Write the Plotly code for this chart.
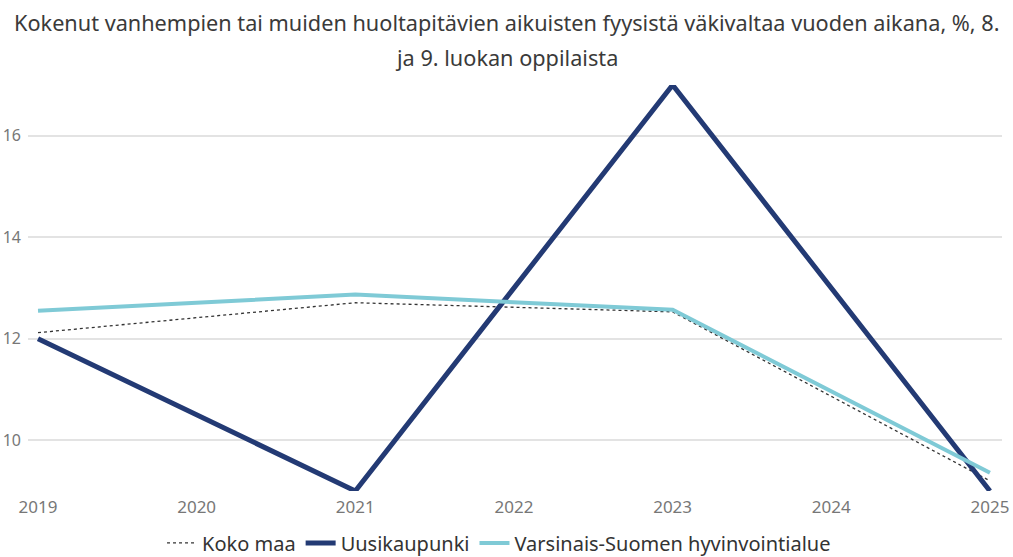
import plotly.graph_objects as go

years = [2019, 2021, 2023, 2025]
koko_maa = [12.12, 12.71, 12.53, 9.2]
uusikaupunki = [12.0, 9.0, 17.0, 9.0]
varsinais = [12.55, 12.87, 12.57, 9.36]
y_ticks = [10, 12, 14, 16]
x_ticks = [2019, 2020, 2021, 2022, 2023, 2024, 2025]

fig = go.Figure()
fig.add_trace(go.Scatter(x=years, y=koko_maa, mode="lines", name="Koko maa",
                         line=dict(color="#333333", width=1.3, dash="dot")))
fig.add_trace(go.Scatter(x=years, y=uusikaupunki, mode="lines", name="Uusikaupunki",
                         line=dict(color="#233a74", width=5)))
fig.add_trace(go.Scatter(x=years, y=varsinais, mode="lines", name="Varsinais-Suomen hyvinvointialue",
                         line=dict(color="#7fcad6", width=4)))

font_family = "Noto Sans, Open Sans, sans-serif"
fig.update_layout(
    width=1013, height=557,
    margin=dict(l=28, r=11, t=85, b=66, autoexpand=False),
    plot_bgcolor="white", paper_bgcolor="white",
    font=dict(family=font_family, color="#333333"),
    showlegend=True,
    legend=dict(orientation="h", x=0.4836, xanchor="center", y=-0.128, yanchor="middle",
                font=dict(size=20, color="#333333"), itemwidth=30,
                tracegroupgap=0, bgcolor="rgba(0,0,0,0)"),
    annotations=[
        dict(text="Kokenut vanhempien tai muiden huoltapitävien aikuisten fyysistä väkivaltaa vuoden aikana, %, 8.",
             xref="paper", yref="paper", x=(506.5 - 28) / 974, y=(491 - 22) / 406,
             xanchor="center", yanchor="middle",
             showarrow=False, font=dict(size=21.7, color="#3a3a3a", family=font_family)),
        dict(text="ja 9. luokan oppilaista",
             xref="paper", yref="paper", x=(506.5 - 28) / 974, y=(491 - 57) / 406,
             xanchor="center", yanchor="middle",
             showarrow=False, font=dict(size=21.7, color="#3a3a3a", family=font_family)),
    ],
)
fig.update_xaxes(range=[2018.937, 2025.076], tickvals=x_ticks, ticktext=[str(v) for v in x_ticks],
                 showgrid=False, zeroline=False, showline=False, automargin=False,
                 tickfont=dict(size=17, color="#777777"), ticks="", ticklabelstandoff=4)
fig.update_yaxes(range=[9, 17], tickvals=y_ticks, showgrid=True, gridcolor="#e3e3e3", gridwidth=1.5,
                 zeroline=False, showline=False, automargin=False,
                 tickfont=dict(size=16, color="#777777"), ticks="", ticklabelstandoff=6)

fig.write_html("out.html", config={"displayModeBar": False},
               post_script="document.body.style.margin='0';")
